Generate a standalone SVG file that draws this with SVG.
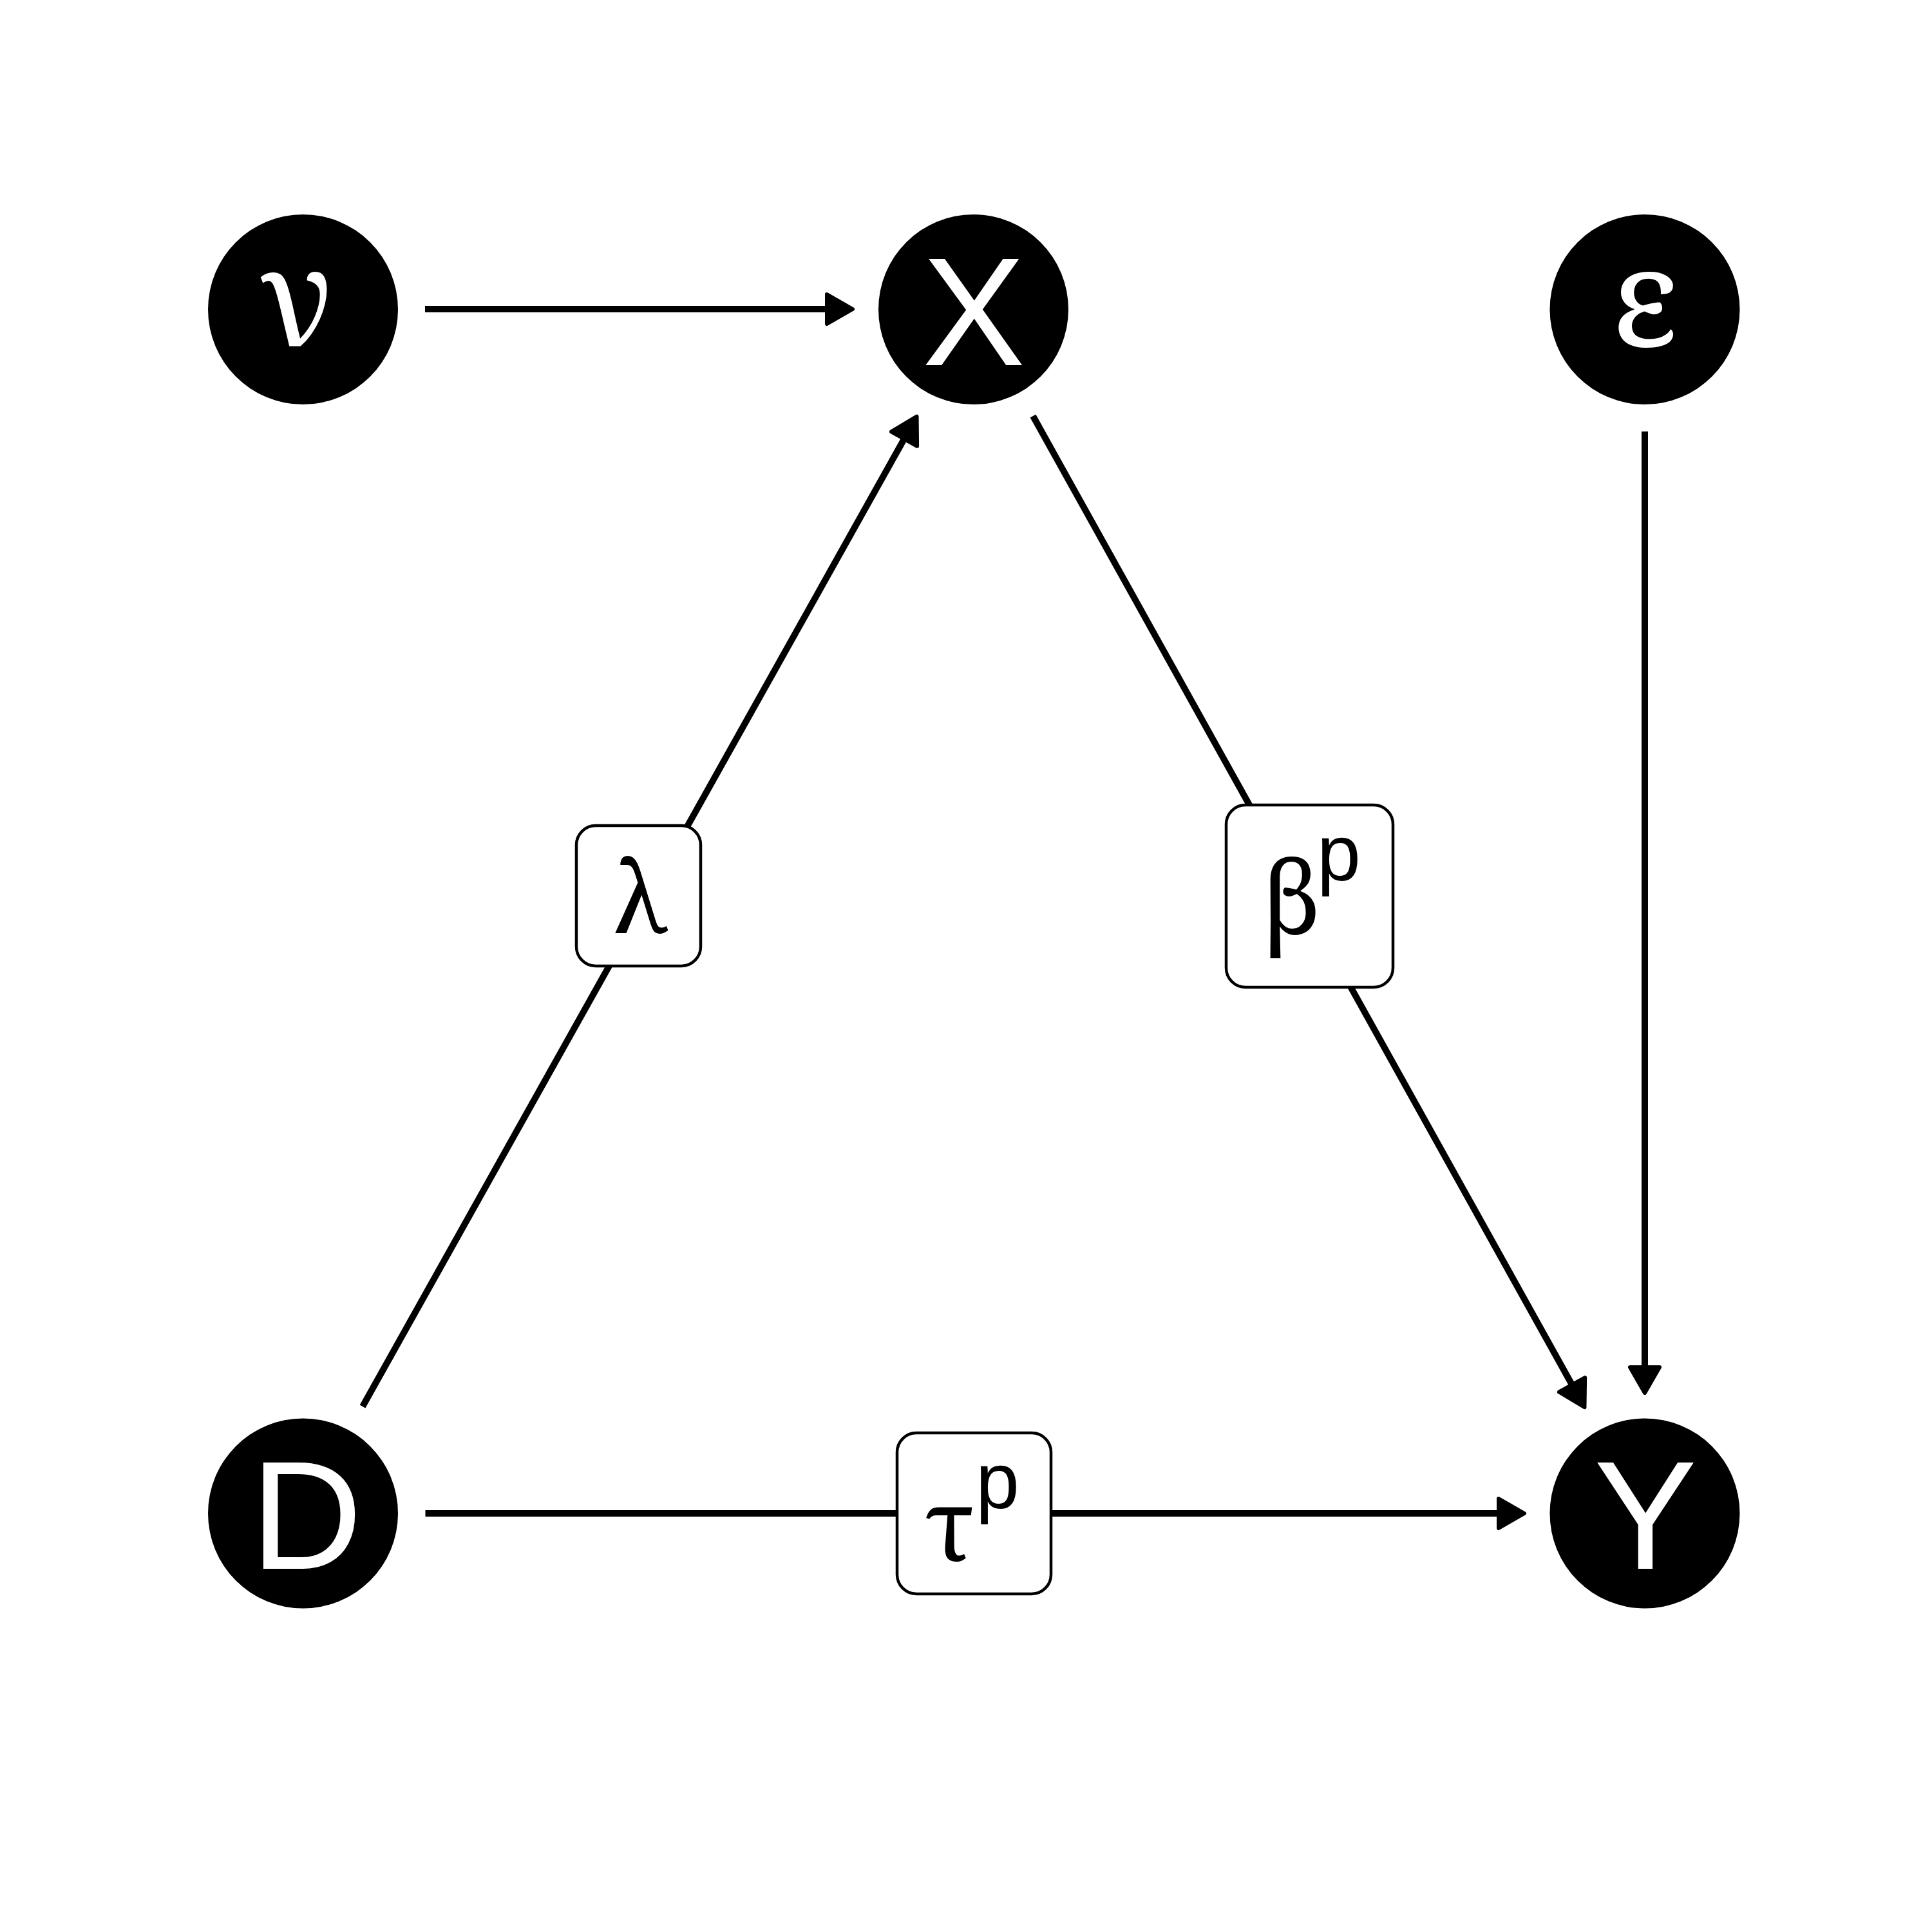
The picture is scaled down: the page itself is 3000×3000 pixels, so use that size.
<svg xmlns="http://www.w3.org/2000/svg" width="3000" height="3000" viewBox="0 0 3000 3000">
  <style>
    .node { fill: #000; }
    .ntxt { fill: #fff; font-family: "Liberation Sans", Arial, sans-serif; font-size: 240px; text-anchor: middle; }
    .ngrk { fill: #fff; font-family: "Noto Serif", "Liberation Serif", serif; font-size: 212px; text-anchor: middle; }
    .edge { stroke: #000; stroke-width: 10; fill: none; marker-end: url(#ah); }
    .lbox { fill: #fff; stroke: #000; stroke-width: 4.5; }
    .lgrk { fill: #000; font-family: "Noto Serif", "Liberation Serif", serif; font-size: 155px; }
    .lsup { fill: #000; font-family: "Liberation Sans", Arial, sans-serif; font-size: 122px; }
  </style>
  <defs>
    <marker id="ah" markerUnits="userSpaceOnUse" viewBox="0 0 48 54" markerWidth="48" markerHeight="54" refX="6" refY="27" orient="auto">
      <path d="M4,4 L44,27 L4,50 Z" fill="#000" stroke="#000" stroke-width="6" stroke-linejoin="round"/>
    </marker>
  </defs>
  <rect width="3000" height="3000" fill="#fff"/>

  <g id="connectors">
    <path class="edge" d="M660,480 L1286,480"/>
    <path class="edge" d="M660.5,2350 L2329,2350"/>
    <path class="edge" d="M2554,670 L2554,2125"/>
    <path class="edge" d="M563,2184 L1405,679.8"/>
    <path class="edge" d="M1604,646 L2442,2152"/>
  </g>

  <g id="node-nu">
    <circle class="node" cx="470.5" cy="480.5" r="147.5"/>
    <text class="ngrk" x="462" y="538">ν</text>
  </g>
  <g id="node-X">
    <circle class="node" cx="1511.5" cy="480.5" r="147.5"/>
    <text class="ntxt" x="1512" y="567">X</text>
  </g>
  <g id="node-eps">
    <circle class="node" cx="2554" cy="480.5" r="147.5"/>
    <text class="ngrk" x="2554" y="538">ε</text>
  </g>
  <g id="node-D">
    <circle class="node" cx="470.5" cy="2350" r="147.5"/>
    <text class="ntxt" x="476" y="2436">D</text>
  </g>
  <g id="node-Y">
    <circle class="node" cx="2554" cy="2350" r="147.5"/>
    <text class="ntxt" x="2555" y="2436">Y</text>
  </g>

  <g id="label-lambda">
    <rect class="lbox" x="895" y="1282" width="193" height="218" rx="30" ry="30"/>
    <text class="lgrk" x="992" y="1449" text-anchor="middle">λ</text>
  </g>
  <g id="label-beta">
    <rect class="lbox" x="1904" y="1250" width="259" height="283" rx="30" ry="30"/>
    <text class="lgrk" x="1962" y="1450">β</text>
    <text class="lsup" x="2045" y="1367">p</text>
  </g>
  <g id="label-tau">
    <rect class="lbox" x="1393" y="2225" width="239" height="250" rx="30" ry="30"/>
    <text class="lgrk" x="1436" y="2423">τ</text>
    <text class="lsup" x="1515" y="2342">p</text>
  </g>
</svg>
